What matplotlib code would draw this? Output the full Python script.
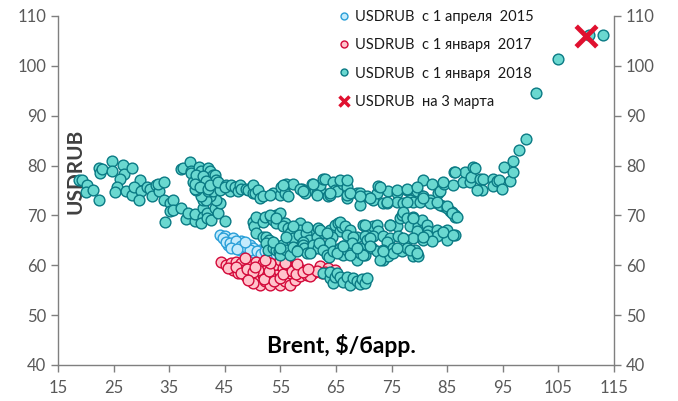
import matplotlib
matplotlib.use('Agg')
import matplotlib.pyplot as plt
from matplotlib.lines import Line2D

plt.rcParams['font.family'] = ['Lato', 'Open Sans', 'DejaVu Sans']

# Brent ($/bbl) vs USDRUB points, read off the picture
# since 1 April 2015
usdrub_2015 = [(44.1, 66.1), (45.0, 65.8), (45.9, 65.1), (46.5, 65.4), (45.6, 64.1), (46.5, 63.8),
               (46.8, 63.4), (47.4, 64.4), (47.7, 63.1), (48.0, 64.8), (48.3, 63.4), (49.5, 64.1),
               (49.2, 62.8), (50.1, 63.4), (50.4, 62.4), (51.3, 63.1), (51.9, 62.8), (52.5, 62.1),
               (53.5, 61.8), (55.0, 62.3), (44.6, 65.5), (45.3, 64.6), (46.0, 64.4), (47.0, 64.9),
               (47.9, 63.9), (48.8, 63.6), (49.6, 63.0), (50.8, 62.9), (51.6, 62.3), (52.2, 62.9),
               (53.0, 62.5), (54.2, 62.2), (46.2, 63.5), (47.2, 63.3), (48.6, 64.6)]

# since 1 January 2017
usdrub_2017 = [(44.4, 60.7), (45.3, 60.1), (46.2, 60.4), (47.1, 60.7), (48.0, 60.4), (46.5, 59.1),
               (47.4, 58.4), (48.3, 59.1), (48.9, 57.8), (49.8, 58.4), (50.1, 57.1), (51.0, 57.8),
               (51.3, 56.1), (52.2, 56.8), (53.1, 56.1), (54.0, 57.1), (54.9, 56.1), (55.8, 56.8),
               (56.7, 56.1), (57.6, 57.1), (58.5, 57.8), (59.7, 58.1), (60.9, 58.4), (62.1, 59.8),
               (63.6, 59.4), (64.8, 59.1), (62.4, 58.4), (49.5, 60.1), (50.7, 60.7), (51.9, 60.4),
               (52.5, 59.1), (53.7, 59.8), (54.9, 61.1), (56.4, 61.4), (55.5, 59.4), (56.7, 58.4),
               (54.3, 58.1), (51.9, 58.1), (51.0, 59.1), (53.1, 57.8), (58.8, 59.1), (60.3, 57.8),
               (57.3, 59.8), (48.6, 61.5), (45.5, 59.5), (47.0, 59.6), (48.0, 58.5), (49.0, 59.3),
               (50.0, 58.7), (50.5, 59.6), (52.0, 57.3), (53.0, 58.8), (53.8, 56.8), (55.0, 57.5),
               (55.5, 58.3), (56.0, 60.2), (57.0, 58.9), (57.8, 58.2), (58.0, 60.3), (59.0, 58.6),
               (55.8, 60.5), (53.2, 60.5), (52.3, 61.0), (50.0, 56.5), (49.2, 57.0), (61.5, 58.9),
               (63.0, 58.6), (60.0, 59.2)]

# since 1 January 2018, split by region of the cloud
usdrub_2018_left = [(18.8, 77.1), (19.3, 77.1), (20.3, 76.1), (20.0, 74.6), (21.3, 75.0), (22.3, 73.1),
                    (22.4, 79.5), (22.6, 78.6), (23.0, 79.3), (24.8, 81.0), (24.7, 79.0), (26.7, 80.1),
                    (26.9, 78.4), (28.4, 79.5), (26.2, 77.4), (29.7, 77.2), (25.6, 75.8), (25.3, 74.6),
                    (27.3, 74.8), (28.3, 74.1), (28.7, 75.8), (30.0, 74.8), (29.6, 73.1), (31.0, 75.8),
                    (31.5, 75.4), (31.9, 73.8), (32.7, 76.1), (33.2, 74.8), (33.0, 76.4), (34.1, 76.8),
                    (34.0, 73.0), (35.1, 72.4), (35.7, 73.1), (35.1, 70.8), (35.7, 71.1), (34.2, 68.7),
                    (37.2, 71.4), (38.1, 69.2), (38.4, 70.4), (39.6, 68.9), (39.7, 70.3), (41.0, 71.4),
                    (41.1, 69.7), (40.8, 68.5), (41.8, 70.4), (41.8, 69.4), (42.6, 69.1), (43.2, 71.4),
                    (43.8, 70.4), (44.1, 72.4), (43.5, 73.1), (42.3, 73.8), (45.0, 68.8), (41.1, 73.1),
                    (41.7, 73.1), (40.8, 73.8), (39.8, 75.0), (41.9, 74.9), (42.9, 74.8)]

usdrub_2018_top_left = [(37.2, 79.3), (37.4, 79.5), (38.7, 80.7), (39.0, 79.0), (39.0, 78.5), (39.3, 76.8),
                        (39.6, 75.4), (40.4, 79.8), (40.8, 78.9), (40.5, 77.5), (40.9, 75.9), (41.7, 78.1),
                        (41.5, 76.8), (41.9, 79.5), (42.3, 79.0), (42.9, 78.2), (43.2, 78.1), (43.4, 77.1),
                        (43.8, 76.1), (44.1, 75.1), (39.9, 78.2), (41.1, 77.9), (41.7, 77.0), (39.6, 76.4),
                        (40.5, 75.8), (42.0, 75.4), (42.3, 76.1), (43.8, 76.8)]

usdrub_2018_upper = [(45.3, 76.1), (45.9, 74.8), (45.0, 75.8), (46.2, 76.1), (46.8, 75.8), (47.4, 74.8),
                     (47.7, 76.1), (48.0, 75.4), (48.9, 75.4), (49.2, 75.1), (50.1, 74.5), (50.1, 76.1),
                     (50.4, 74.4), (51.0, 75.0), (51.3, 73.4), (51.9, 73.8), (53.7, 74.4), (54.9, 74.1),
                     (55.2, 75.8), (56.1, 76.4), (55.8, 74.4), (56.4, 73.8), (57.3, 76.4), (58.8, 75.4),
                     (59.1, 74.8), (59.4, 74.4), (60.6, 76.4), (61.2, 74.8), (61.5, 74.4), (62.1, 75.4),
                     (62.1, 76.1), (62.7, 77.4), (63.0, 77.4), (63.6, 73.8), (63.9, 74.1), (64.5, 76.8),
                     (64.8, 75.1), (65.1, 74.8), (66.3, 76.4), (66.9, 73.4),
                     (65.7, 77.1), (66.9, 75.8), (66.9, 74.1), (68.7, 74.4), (69.3, 74.4), (70.5, 73.8),
                     (71.7, 73.1), (72.3, 74.4), (72.6, 75.9), (74.4, 74.8), (75.9, 74.4), (77.7, 75.1),
                     (79.5, 74.8), (80.7, 77.1), (82.2, 76.4), (83.3, 74.5), (83.7, 74.8), (84.5, 76.4),
                     (86.0, 76.2), (87.8, 76.8), (86.2, 78.8), (88.2, 78.8), (89.7, 79.8), (89.1, 76.8),
                     (89.2, 77.8), (90.9, 77.4), (91.4, 77.4), (91.2, 75.1), (90.3, 75.1), (93.3, 77.4),
                     (93.3, 75.9), (94.0, 77.0), (94.4, 77.2), (94.8, 75.3),
                     (80.7, 73.8), (81.9, 73.1), (83.1, 72.4), (84.3, 71.8), (85.5, 70.8), (86.4, 70.1),
                     (73.5, 72.4), (74.1, 72.4), (75.9, 72.7), (77.1, 72.4), (78.3, 73.1), (78.9, 72.7),
                     (80.1, 72.7), (81.9, 72.4), (83.7, 72.1), (84.9, 71.4), (85.8, 70.7), (86.4, 69.7),
                     (69.3, 72.1), (55.5, 76.1), (58.5, 75.4), (60.9, 76.4), (66.9, 77.1), (72.9, 75.8),
                     (75.9, 75.1), (77.7, 75.4), (79.5, 75.7), (84.3, 76.8), (86.4, 78.8), (90.0, 79.5),
                     (71.1, 73.4), (74.1, 72.7), (77.7, 72.7), (80.7, 73.4), (83.1, 72.7), (84.9, 71.8),
                     (85.8, 70.4), (86.7, 69.7), (53.1, 74.1), (59.1, 74.8), (61.5, 74.1), (63.9, 74.4),
                     (67.5, 74.4), (69.3, 73.8)]

usdrub_2018_tail = [(95.2, 79.8), (96.3, 76.9), (96.8, 78.8), (96.8, 81.0), (98.0, 83.1), (99.2, 85.3),
                    (101.0, 94.6), (105.0, 101.4), (110.5, 106.2), (113.0, 106.2)]

usdrub_2018_middle = [(50.1, 68.7), (50.3, 67.8), (50.7, 69.7), (51.9, 68.7), (52.2, 69.7), (53.4, 69.7),
                      (54.2, 70.0), (54.9, 70.4), (53.6, 69.0), (54.3, 68.4), (55.8, 68.4), (55.5, 67.8),
                      (56.4, 67.4), (57.1, 67.0), (58.5, 68.4), (58.5, 67.1), (59.7, 66.8), (60.3, 67.1),
                      (61.2, 66.4), (61.8, 67.4), (63.3, 66.4), (63.9, 67.1), (64.8, 68.1), (65.4, 68.4),
                      (65.7, 66.8), (66.0, 67.7), (65.7, 68.7), (66.6, 67.8), (67.5, 67.1), (69.9, 68.1),
                      (70.5, 67.1), (71.7, 67.8), (72.3, 68.1), (72.6, 66.8), (74.7, 68.1), (75.9, 67.8),
                      (76.5, 69.4), (76.8, 70.1), (77.1, 70.7), (77.7, 69.4), (78.9, 69.7), (78.3, 67.8),
                      (79.8, 67.8), (80.4, 69.1), (80.7, 67.1), (81.3, 68.1), (81.6, 66.8), (83.1, 67.1),
                      (84.0, 66.4), (84.9, 67.1), (86.4, 66.1), (84.9, 65.1), (83.1, 65.8), (81.3, 66.1),
                      (79.5, 66.8),
                      (50.7, 66.4), (51.8, 65.7), (52.5, 65.7), (53.0, 65.1), (53.7, 64.4), (55.3, 64.1),
                      (56.2, 65.7), (56.7, 66.4), (57.3, 65.4), (58.4, 66.0), (59.6, 66.4), (60.1, 65.1),
                      (61.5, 64.8), (61.6, 65.7), (62.8, 66.4), (64.2, 65.7), (66.9, 66.1), (68.7, 65.7),
                      (70.2, 65.8), (70.5, 65.1), (71.7, 65.8), (73.5, 65.8), (74.7, 65.4), (76.2, 65.8),
                      (77.7, 65.1), (78.9, 65.4), (80.7, 65.1), (82.2, 64.8),
                      (53.1, 70.1), (54.3, 69.5), (57.3, 67.8), (59.7, 67.7), (62.1, 67.1), (63.3, 66.4),
                      (70.2, 68.1), (74.7, 68.0), (78.9, 69.4), (84.3, 66.7), (86.1, 66.1), (56.1, 65.7),
                      (59.1, 64.7), (61.5, 64.1), (63.9, 64.4), (71.1, 65.4), (68.1, 65.7), (74.1, 64.7),
                      (77.1, 65.4), (80.7, 65.7)]

usdrub_2018_lower = [(52.5, 64.4), (52.8, 63.1), (53.6, 63.4), (54.3, 63.1), (54.8, 62.8), (54.9, 62.1),
                     (56.0, 63.1), (56.7, 62.1), (57.2, 63.7), (58.1, 63.1), (59.1, 64.1), (59.3, 63.4),
                     (59.7, 62.4), (60.5, 62.8), (60.8, 64.1), (61.7, 63.4), (62.0, 64.4), (62.7, 63.1),
                     (63.3, 62.1), (63.8, 61.7), (64.5, 62.8), (65.7, 63.4), (65.7, 62.4), (66.3, 63.8),
                     (66.3, 62.1), (66.9, 63.1), (67.8, 64.4), (68.7, 61.1), (69.3, 63.4), (69.3, 62.4),
                     (70.2, 62.1), (71.4, 63.4), (72.3, 62.8), (73.5, 63.1), (73.5, 61.1), (74.4, 61.8),
                     (75.3, 63.4), (75.3, 62.4), (76.8, 62.8), (77.7, 63.4), (78.9, 62.8), (78.9, 61.8),
                     (79.2, 63.1), (79.8, 61.8), (53.7, 64.7), (54.9, 63.4), (57.9, 62.8), (60.3, 62.4),
                     (65.1, 62.4), (67.5, 62.1), (69.9, 62.1), (72.9, 61.1), (66.3, 63.8), (68.7, 63.4),
                     (71.1, 63.8), (73.5, 62.8), (75.9, 63.4), (78.3, 63.1), (79.5, 62.4)]

usdrub_2018_bottom = [(62.6, 58.4), (63.9, 57.4), (63.9, 58.7), (64.5, 56.4), (64.8, 57.6), (65.1, 58.4),
                      (65.7, 57.7), (66.3, 56.7), (66.9, 57.7), (67.5, 56.0), (68.1, 57.4), (68.7, 56.9),
                      (69.4, 56.2), (69.7, 57.2), (70.3, 56.4), (70.6, 57.4)]

march3 = (110.0, 106.0)

usdrub_2018 = (usdrub_2018_left + usdrub_2018_top_left + usdrub_2018_upper + usdrub_2018_tail
               + usdrub_2018_middle + usdrub_2018_lower + usdrub_2018_bottom)

labels = ['USDRUB  с 1 апреля  2015', 'USDRUB  с 1 января  2017',
          'USDRUB  с 1 января  2018', 'USDRUB  на 3 марта']

teal_face, teal_edge = '#6ad8d0', '#0a7a84'
red_face, red_edge = '#ffc4cc', '#d3093a'
blue_face, blue_edge = '#c4ebfc', '#2a9fd8'
cross_col = '#e0102f'
grey = '#595959'

fig = plt.figure(figsize=(6.78, 4.01), dpi=100)
ax = fig.add_axes([0.0855, 0.0898, 0.8201, 0.8703])

def pts(series):
    return [p[0] for p in series], [p[1] for p in series]

ms = 60
x, y = pts(usdrub_2015)
ax.scatter(x, y, s=ms, c=blue_face, edgecolors=blue_edge, linewidths=1.0, zorder=2)
x, y = pts(usdrub_2017)
ax.scatter(x, y, s=ms, c=red_face, edgecolors=red_edge, linewidths=1.0, zorder=3)
x, y = pts(usdrub_2018)
ax.scatter(x, y, s=ms, c=teal_face, edgecolors=teal_edge, linewidths=1.0, zorder=4)
ax.scatter([march3[0]], [march3[1]], s=220, marker='x', c=cross_col, linewidths=3.5, zorder=5)

ax.set_xlim(15, 115)
ax.set_ylim(40, 110)
ax.set_xticks(range(15, 116, 10))
ax.set_yticks(range(40, 111, 10))

ax2 = ax.twinx()
ax2.set_ylim(40, 110)
ax2.set_yticks(range(40, 111, 10))

for a in (ax, ax2):
    a.spines['top'].set_visible(False)
    for s in a.spines.values():
        s.set_color('#7f7f7f')
        s.set_linewidth(1.0)
    a.tick_params(direction='out', length=5, width=1.0, color='#7f7f7f',
                  labelcolor=grey, labelsize=12)
ax2.spines['left'].set_visible(False)
ax2.spines['bottom'].set_visible(False)
ax.spines['right'].set_visible(False)
ax.tick_params(axis='x', pad=6)

ax.text(0.031, 0.555, 'USDRUB', transform=ax.transAxes, rotation=90, fontsize=15,
        fontweight='bold', color='#404040', ha='center', va='center')
ax.text(0.510, 0.055, 'Brent, $/барр.', transform=ax.transAxes, fontsize=16.5,
        fontweight='bold', color='black', ha='center', va='center')

handles = [
    Line2D([], [], ls='none', marker='o', ms=5, mfc=blue_face, mec=blue_edge, mew=1),
    Line2D([], [], ls='none', marker='o', ms=5, mfc=red_face, mec=red_edge, mew=1),
    Line2D([], [], ls='none', marker='o', ms=5, mfc=teal_face, mec=teal_edge, mew=1),
    Line2D([], [], ls='none', marker='x', ms=7, mec=cross_col, mew=2.5),
]
leg = ax2.legend(handles, labels, loc='upper left', bbox_to_anchor=(340 / 678, 1 - 10 / 401),
                 bbox_transform=fig.transFigure, frameon=False, fontsize=10.5,
                 handlelength=0.6, handletextpad=0.4, labelspacing=0.98, borderpad=0,
                 borderaxespad=0)
for t in leg.get_texts():
    t.set_color('#1a1a1a')

fig.savefig('out.png', dpi=100)
